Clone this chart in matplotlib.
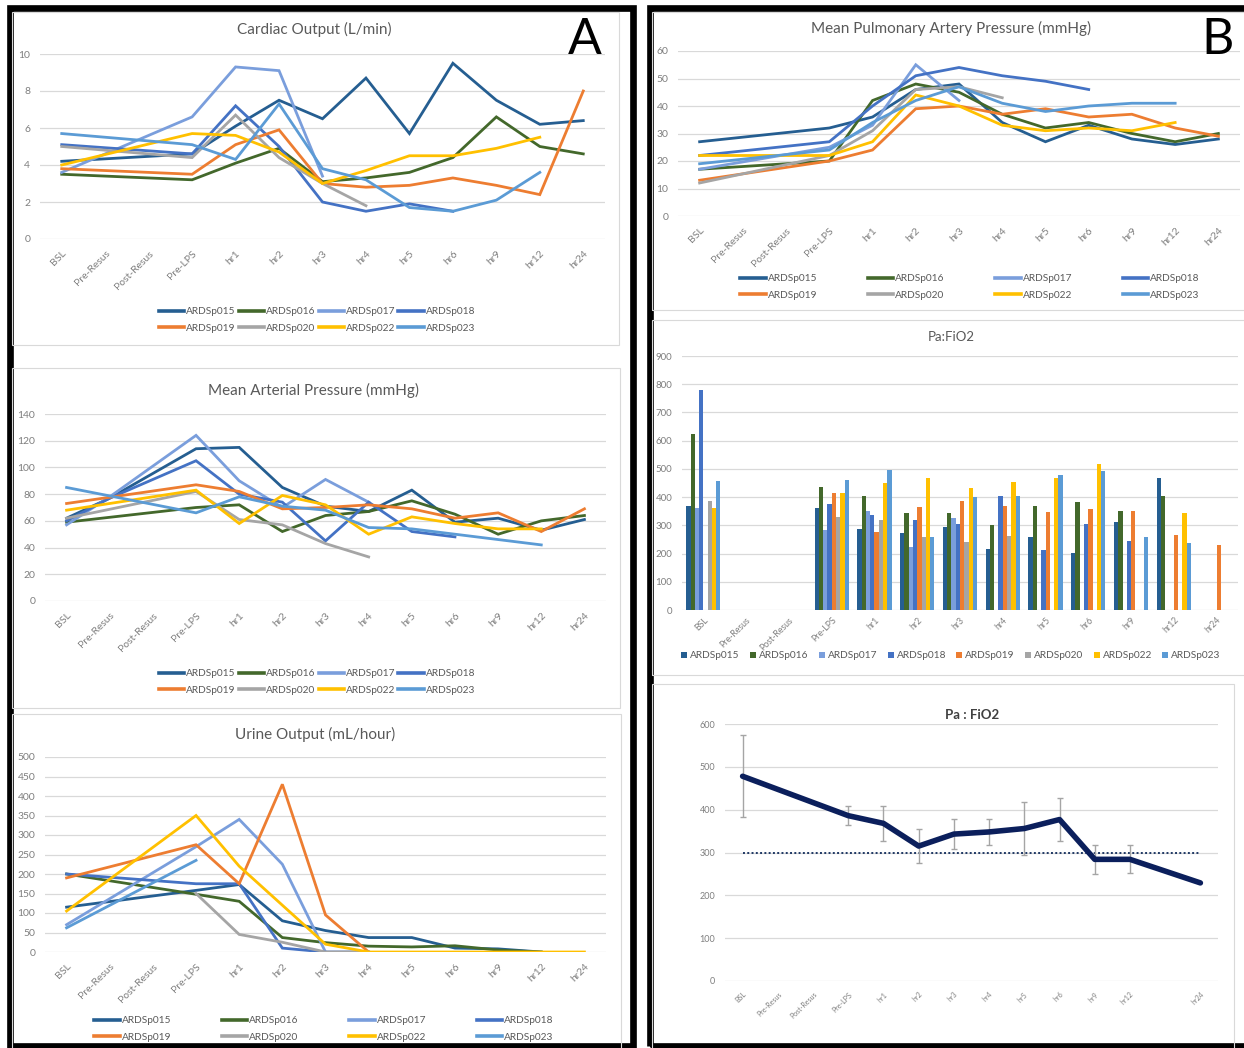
import numpy as np
import matplotlib.pyplot as plt
from matplotlib.patches import Rectangle
from matplotlib.lines import Line2D

plt.rcParams['font.family'] = ['Lato', 'DejaVu Sans']

W, H = 1244, 1048
n = np.nan

times = ["BSL", "Pre-Resus", "Post-Resus", "Pre-LPS", "hr1", "hr2", "hr3",
         "hr4", "hr5", "hr6", "hr9", "hr12", "hr24"]
pigs = ["ARDSp015", "ARDSp016", "ARDSp017", "ARDSp018",
        "ARDSp019", "ARDSp020", "ARDSp022", "ARDSp023"]
pig_colors = ["#255E91", "#43682B", "#7A9EDC", "#4472C4",
              "#ED7D31", "#A5A5A5", "#FFC000", "#5B9BD5"]

# one row per pig, one column per time point (nan = not measured)
cardiac_output = [
    [4.2, n, n, 4.6, 6.1, 7.5, 6.5, 8.7, 5.7, 9.5, 7.5, 6.2, 6.4],
    [3.5, n, n, 3.2, 4.1, 4.9, 3.1, 3.3, 3.6, 4.4, 6.6, 5.0, 4.6],
    [3.6, n, n, 6.6, 9.3, 9.1, 3.4, n, n, n, n, n, n],
    [5.1, n, n, 4.6, 7.2, 5.0, 2.0, 1.5, 1.9, 1.5, n, n, n],
    [3.8, n, n, 3.5, 5.1, 5.9, 3.0, 2.8, 2.9, 3.3, 2.9, 2.4, 8.0],
    [5.0, n, n, 4.4, 6.7, 4.4, 3.0, 1.8, n, n, n, n, n],
    [4.0, n, n, 5.7, 5.6, 4.7, 3.0, 3.7, 4.5, 4.5, 4.9, 5.5, n],
    [5.7, n, n, 5.1, 4.3, 7.3, 3.8, 3.2, 1.7, 1.5, 2.1, 3.6, n],
]
mean_arterial = [
    [62, 77, n, 114, 115, 85, 71, 67, 83, 59, 62, 53, 61],
    [59, n, n, 70, 72, 52, 64, 67, 75, 65, 50, 60, 64],
    [57, 78, n, 124, 90, 70, 91, 74, n, n, n, n, n],
    [60, 77, n, 105, 80, 74, 45, 74, 52, 48, n, n, n],
    [73, n, n, 87, 82, 69, 70, 72, 69, 62, 66, 52, 69],
    [62, n, n, 82, 61, 57, 43, 33, n, n, n, n, n],
    [68, n, n, 83, 58, 79, 72, 50, 63, 58, 54, 54, n],
    [85, n, n, 66, 78, 71, 68, 55, 54, 50, 46, 42, n],
]
urine_output = [
    [115, n, n, 158, 173, 80, 55, 37, 37, 10, 8, 0, n],
    [200, n, n, 148, 130, 37, 24, 15, 13, 16, 5, 0, n],
    [70, n, n, 270, 340, 225, 0, n, n, n, n, n, n],
    [200, n, n, 175, 175, 10, 0, 0, n, n, n, n, n],
    [190, n, n, 275, 175, 430, 95, 0, n, n, n, n, n],
    [n, n, n, 150, 45, 25, 0, 0, n, n, n, n, n],
    [105, n, n, 350, 220, 120, 20, 0, 0, 0, 0, 0, 0],
    [62, n, n, 235, n, n, n, n, n, n, n, n, n],
]
mean_pulm_artery = [
    [27, n, n, 32, 36, 46, 48, 34, 27, 33, 28, 26, 28],
    [17, n, n, 20, 42, 48, 45, 37, 32, 34, 30, 27, 30],
    [17, n, n, 25, 33, 55, 42, n, n, n, n, n, n],
    [22, n, n, 27, 40, 51, 54, 51, 49, 46, n, n, n],
    [13, n, n, 20, 24, 39, 40, 37, 39, 36, 37, 32, 29],
    [12, n, n, 22, 31, 46, 47, 43, n, n, n, n, n],
    [22, n, n, 22, 27, 44, 40, 33, 31, 32, 31, 34, n],
    [19, n, n, 24, 34, 42, 47, 41, 38, 40, 41, 41, n],
]
pf_ratio = [
    [370, n, n, 363, 288, 274, 294, 217, 257, 201, 312, 468, n],
    [622, n, n, 435, 404, 345, 344, 302, 370, 384, 350, 404, n],
    [363, n, n, 283, 352, 223, 327, n, n, n, n, n, n],
    [778, n, n, 374, 338, 319, 306, 405, 213, 305, 243, n, n],
    [n, n, n, 415, 276, 365, 387, 370, 348, 358, 350, 267, 229],
    [386, n, n, 328, 319, 259, 240, 263, n, n, n, n, n],
    [363, n, n, 413, 449, 468, 433, 452, 469, 516, n, 345, n],
    [457, n, n, 462, 496, 259, 399, 404, 477, 491, 260, 237, n],
]

# group mean P/F with error bars (blank slot before hr24)
pf_times = times[:12] + ["", "hr24"]
pf_mean = [478, n, n, 386, 368, 315, 343, 348, 356, 377, 284, 284, n, 229]
pf_err = [96, n, n, 22, 41, 39, 35, 31, 62, 50, 34, 33, n, n]
pf_threshold = 300

TXT = "#595959"
TICK = "#7F7F7F"
GRID = "#D9D9D9"

fig = plt.figure(figsize=(W / 100, H / 100), dpi=100)


def fx(x):
    return x / W


def fy(y):
    return 1 - y / H


def add_ax(l, t, r, b):
    return fig.add_axes([fx(l), fy(b), (r - l) / W, (b - t) / H])


def frame(l, t, r, b, color, lw):
    fig.patches.append(Rectangle((fx(l), fy(b)), (r - l) / W, (b - t) / H,
                                 transform=fig.transFigure, fill=False,
                                 edgecolor=color, linewidth=lw, zorder=0))


def style(ax, labels, ymax, ystep, yfs=7.5, xfs=7.5, xpad=7):
    ax.set_xlim(-0.5, len(labels) - 0.5)
    ax.set_ylim(0, ymax)
    ax.set_yticks(np.arange(0, ymax + 1, ystep))
    ax.set_xticks(range(len(labels)))
    ax.set_xticklabels(labels, rotation=45, ha='right', rotation_mode='anchor')
    for s in ax.spines.values():
        s.set_visible(False)
    ax.grid(axis='y', color=GRID, lw=0.9)
    ax.set_axisbelow(True)
    ax.tick_params(axis='y', length=0, colors=TICK, labelsize=yfs, pad=7)
    ax.tick_params(axis='x', length=0, colors=TICK, labelsize=xfs, pad=xpad)


def lines(ax, table):
    x = np.arange(len(times))
    for row, c in zip(table, pig_colors):
        v = np.array(row, float)
        m = ~np.isnan(v)
        ax.plot(x[m], v[m], color=c, lw=2.0, solid_joinstyle='miter')


def line_legend(ax, cx, cy, colsp):
    handles = [Line2D([], [], color=c, lw=2.6) for c in pig_colors]
    order = [0, 4, 1, 5, 2, 6, 3, 7]
    ax.legend([handles[i] for i in order], [pigs[i] for i in order], ncol=4,
              loc='center', bbox_to_anchor=(fx(cx), fy(cy)),
              bbox_transform=fig.transFigure, frameon=False, fontsize=7.3,
              labelcolor=TXT, handlelength=2.5, handletextpad=0.2,
              columnspacing=colsp, labelspacing=0.75)


# outer panel frames
frame(9.5, 7.5, 632.5, 1045.5, "black", 4.8)
frame(649.5, 7.5, 1250, 1045.5, "black", 4.8)
for box in [(12, 12, 619, 345), (12, 368, 620, 708), (12, 714, 621, 1050),
            (652, 12, 1250, 310), (652, 320, 1250, 675), (652, 684, 1234, 1050)]:
    frame(*box, GRID, 0.8)

# cardiac output
ax = add_ax(40, 54, 605, 239)
lines(ax, cardiac_output)
style(ax, times, 10, 2)
fig.text(fx(314), fy(29), "Cardiac Output (L/min)", ha='center', va='center',
         fontsize=11, color=TXT)
line_legend(ax, 317, 320, 0.3)

# mean arterial pressure
ax = add_ax(45, 414, 606, 601)
lines(ax, mean_arterial)
style(ax, times, 140, 20)
fig.text(fx(314), fy(390), "Mean Arterial Pressure (mmHg)", ha='center',
         va='center', fontsize=11, color=TXT)
line_legend(ax, 317, 682, 0.3)

# urine output
ax = add_ax(45, 757, 606, 952)
lines(ax, urine_output)
style(ax, times, 500, 50)
fig.text(fx(315), fy(734), "Urine Output (mL/hour)", ha='center', va='center',
         fontsize=11, color=TXT)
line_legend(ax, 324, 1029, 5.0)

# mean pulmonary artery pressure
ax = add_ax(678, 51, 1240, 216)
lines(ax, mean_pulm_artery)
style(ax, times, 60, 10)
fig.text(fx(951), fy(28), "Mean Pulmonary Artery Pressure (mmHg)", ha='center',
         va='center', fontsize=11, color=TXT)
line_legend(ax, 970, 287, 5.0)

# P/F ratio per pig
ax = add_ax(682, 356, 1238, 610)
x = np.arange(len(times))
bw = 0.1
for i, (row, c) in enumerate(zip(pf_ratio, pig_colors)):
    ax.bar(x + (i - 3.5) * bw, row, width=bw, color=c, label=pigs[i])
style(ax, times, 900, 100, yfs=7, xfs=6.3, xpad=4)
fig.text(fx(951), fy(337), "Pa:FiO2", ha='center', va='center', fontsize=9.5,
         color=TXT)
ax.legend(ncol=8, loc='center', bbox_to_anchor=(fx(951), fy(656)),
          bbox_transform=fig.transFigure, frameon=False, fontsize=7.3,
          labelcolor=TXT, handlelength=0.6, handleheight=0.6,
          handletextpad=0.3, columnspacing=1.0)

# group mean P/F
ax = add_ax(725, 724, 1218, 981)
xp = np.arange(len(pf_times))
mu = np.array(pf_mean, float)
err = np.array(pf_err, float)
ok = ~np.isnan(mu)
ax.plot([0, len(pf_times) - 1], [pf_threshold, pf_threshold], color="#1F3864",
        lw=1.4, ls=(0, (1, 1.2)), zorder=2)
ax.errorbar(xp, mu, yerr=err, fmt='none', ecolor="#A5A5A5", elinewidth=1.0,
            capsize=2.2, capthick=1.0, zorder=3)
ax.plot(xp[ok], mu[ok], color="#0B1F5C", lw=4.0, solid_joinstyle='round',
        solid_capstyle='round', zorder=4)
style(ax, pf_times, 600, 100, yfs=6.5, xfs=5)
fig.text(fx(972), fy(715), "Pa : FiO2", ha='center', va='center', fontsize=9.5,
         color="#404040", fontweight='bold')

# panel letters
fig.text(fx(585), fy(40), "A", ha='center', va='center', fontsize=36)
fig.text(fx(1218), fy(40), "B", ha='center', va='center', fontsize=36)

fig.savefig("out.png", dpi=100, facecolor="white")
